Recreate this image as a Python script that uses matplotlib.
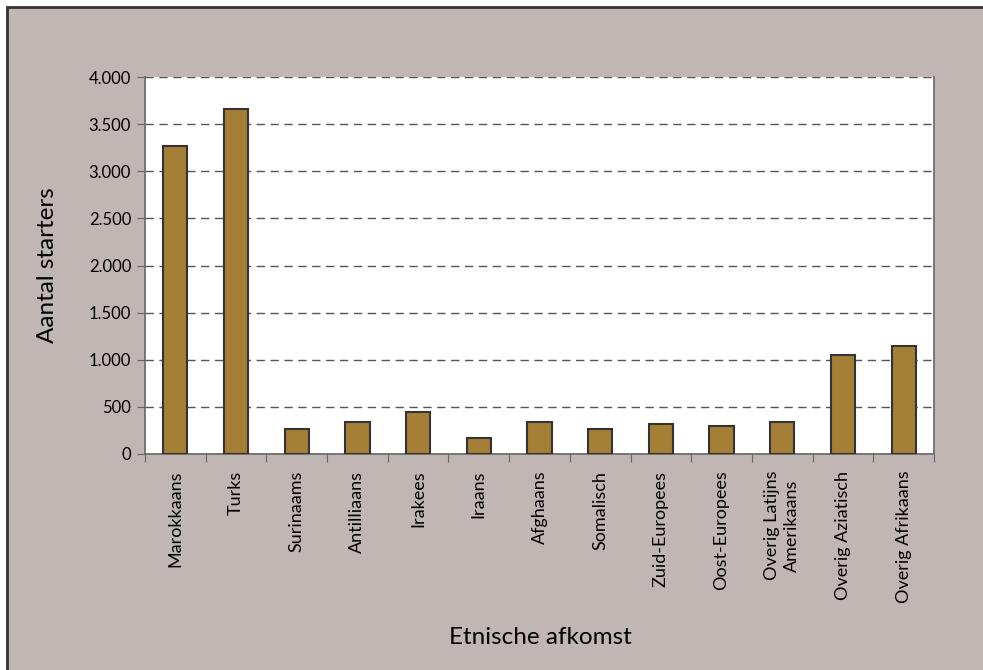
import matplotlib
matplotlib.use("Agg")
import matplotlib.pyplot as plt
from matplotlib.patches import Rectangle
from matplotlib.ticker import FuncFormatter

# categories and values
groepen = ["Marokkaans", "Turks", "Surinaams", "Antilliaans", "Irakees", "Iraans",
           "Afghaans", "Somalisch", "Zuid-Europees", "Oost-Europees",
           "Overig Latijns\nAmerikaans", "Overig Aziatisch", "Overig Afrikaans"]
starters = [3270, 3660, 262, 336, 449, 173, 336, 265, 318, 300, 336, 1050, 1143]
y_ticks = [0, 500, 1000, 1500, 2000, 2500, 3000, 3500, 4000]

plt.rcParams['font.family'] = ['Lato', 'DejaVu Sans']
bg = "#C0B6B3"

fig = plt.figure(figsize=(9.83, 6.7), dpi=100, facecolor="white")
# grey panel with dark border
fig.patches.append(Rectangle((7/983, -0.1), 1.2, 1.1 - 7/670, transform=fig.transFigure,
                             facecolor=bg, edgecolor="#333333", linewidth=2, zorder=-1))

ax = fig.add_axes([145/983, (670-454)/670, (934-145)/983, (454-77)/670])
ax.set_zorder(1)
ax.set_facecolor("white")

x = list(range(len(groepen)))
ax.bar(x, starters, width=0.4, color="#A67F37", edgecolor="#333333", linewidth=1.5, zorder=3)

ax.set_xlim(-0.5, len(groepen) - 0.5)
ax.set_ylim(0, 4000)
ax.set_yticks(y_ticks)
ax.yaxis.set_major_formatter(FuncFormatter(lambda v, p: f"{int(v):,}".replace(",", ".")))
ax.yaxis.grid(True, linestyle=(0, (6, 4)), color="#555555", linewidth=1, zorder=1)

ax.set_xticks([i - 0.5 for i in range(len(groepen) + 1)])
ax.set_xticklabels([])
ax.set_xticks(x, minor=True)
ax.set_xticklabels(groepen, minor=True, rotation=90, fontsize=13, va="top", ha="center",
                   multialignment="center", linespacing=1.3)
ax.tick_params(axis="x", which="minor", length=0, pad=12)
ax.tick_params(axis="x", which="major", length=6, color="#666666", direction="out")
ax.tick_params(axis="y", length=6, color="#666666", labelsize=12, pad=4)

for s in ["left", "bottom", "right"]:
    ax.spines[s].set_color("#666666")
    ax.spines[s].set_linewidth(1.2)
ax.spines["top"].set_visible(False)

ax.set_ylabel("Aantal starters", fontsize=17.5, labelpad=22)
fig.text(540/983, 1 - 637/670, "Etnische afkomst", fontsize=17.5, ha="center", va="center")

fig.savefig("out.png", dpi=100, facecolor=fig.get_facecolor())
